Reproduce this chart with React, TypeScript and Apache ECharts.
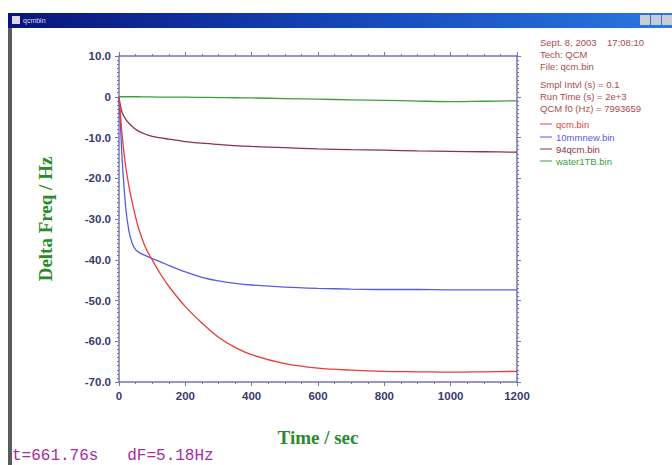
import React, { useEffect, useRef } from "react";
import * as echarts from "echarts";

const times = [0, 5, 10, 20, 30, 40, 50, 60, 80, 100, 125, 150, 200, 250, 300, 350, 400, 500, 600, 700, 800, 900, 1000, 1100, 1200];
const qcm = [0, -5, -10, -17, -22, -26, -29.5, -32.5, -37, -40, -43.5, -46.5, -51.5, -55.5, -59, -61.5, -63.3, -65.5, -66.6, -67.1, -67.4, -67.5, -67.6, -67.5, -67.4];
const mm10 = [0, -8, -16, -27, -33, -36, -37.5, -38.2, -39, -39.7, -40.5, -41.4, -43, -44.3, -45.2, -45.8, -46.2, -46.7, -47, -47.2, -47.3, -47.3, -47.4, -47.4, -47.4];
const q94 = [0, -2.5, -4, -5.5, -6.5, -7.3, -8, -8.5, -9.2, -9.7, -10.1, -10.4, -11, -11.4, -11.7, -12, -12.2, -12.5, -12.8, -13, -13.1, -13.3, -13.4, -13.5, -13.6];
const water = [0, 0, 0, 0, 0, 0, 0, 0, -0.05, -0.05, -0.1, -0.1, -0.1, -0.15, -0.2, -0.25, -0.3, -0.45, -0.6, -0.75, -0.9, -1.05, -1.2, -1.1, -1.0];

const seriesNames = ["qcm.bin", "10mmnew.bin", "94qcm.bin", "water1TB.bin"];
const seriesColors = ["#e83c3c", "#5a5ae6", "#8a3448", "#3ca03c"];
const infoLines = ["Sept. 8, 2003    17:08:10", "Tech: QCM", "File: qcm.bin", "Smpl Intvl (s) = 0.1", "Run Time (s) = 2e+3", "QCM f0 (Hz) = 7993659"];
const xTicks = [0, 1200, 200];
const yTicks = [-70, 10, 10];

export default function App() {
  const ref = useRef<HTMLDivElement>(null);
  useEffect(() => {
    if (!ref.current) return;
    const chart = echarts.init(ref.current, null, { renderer: "svg" });
    const all = [qcm, mm10, q94, water];
    const axisColor = "#7474b4";
    const labelStyle = { color: "#3a3a72", fontWeight: "bold" as const, fontSize: 11.5, fontFamily: "Liberation Sans, Arial, sans-serif" };
    const infoY = [42, 54, 66, 84, 96, 108];
    const legY = [124, 137, 149, 161];
    const graphics: any[] = [
      { type: "rect", shape: { x: 8, y: 13, width: 664, height: 15 }, style: { fill: new echarts.graphic.LinearGradient(0, 0, 1, 0, [{ offset: 0, color: "#0a1478" }, { offset: 0.5, color: "#1446b4" }, { offset: 1, color: "#2a78e0" }]) } },
      { type: "rect", shape: { x: 12, y: 16, width: 8, height: 8 }, style: { fill: "#d8d8e8" } },
      { type: "text", x: 23, y: 20, style: { text: "qcmbin", fill: "#dde", fontSize: 7, fontFamily: "Liberation Sans", verticalAlign: "middle" } },
      { type: "rect", shape: { x: 640, y: 15, width: 10, height: 10 }, style: { fill: "#c8ccd8" } },
      { type: "rect", shape: { x: 651, y: 15, width: 10, height: 10 }, style: { fill: "#c8ccd8" } },
      { type: "rect", shape: { x: 662, y: 15, width: 10, height: 10 }, style: { fill: "#c8ccd8" } },
      { type: "rect", shape: { x: 8, y: 28, width: 4, height: 437 }, style: { fill: "#5a5a5a" } },
      { type: "text", x: 45, y: 219, rotation: Math.PI / 2, style: { text: "Delta Freq / Hz", fill: "#2a8a2a", fontSize: 19, fontWeight: "bold", fontFamily: "Liberation Serif, Times New Roman, serif", align: "center", verticalAlign: "middle" } },
      { type: "text", x: 318, y: 437, style: { text: "Time / sec", fill: "#2a8a2a", fontSize: 19, fontWeight: "bold", fontFamily: "Liberation Serif, Times New Roman, serif", align: "center", verticalAlign: "middle" } },
      { type: "text", x: 12, y: 456, style: { text: "t=661.76s   dF=5.18Hz", fill: "#a42ca4", fontSize: 16, fontFamily: "Liberation Mono, Courier New, monospace", verticalAlign: "middle" } },
    ];
    infoLines.forEach((t, i) => {
      graphics.push({ type: "text", x: 540, y: infoY[i], style: { text: t, fill: "#a84c4c", fontSize: 9.5, fontFamily: "Liberation Sans, Arial, sans-serif", verticalAlign: "middle" } });
    });
    seriesNames.forEach((n, i) => {
      graphics.push({ type: "line", shape: { x1: 540, y1: legY[i], x2: 552, y2: legY[i] }, style: { stroke: seriesColors[i], lineWidth: 1 } });
      graphics.push({ type: "text", x: 556, y: legY[i], style: { text: n, fill: seriesColors[i], fontSize: 9.5, fontFamily: "Liberation Sans, Arial, sans-serif", verticalAlign: "middle" } });
    });
    const axisBase = {
      axisLine: { show: true, onZero: false, lineStyle: { color: axisColor, width: 1.5 } },
      axisTick: { show: true, inside: false, length: 4, lineStyle: { color: axisColor } },
      splitLine: { show: false },
    };
    chart.setOption({
      animation: false,
      backgroundColor: "#ffffff",
      grid: { left: 119, right: 155, top: 56, bottom: 83, containLabel: false },
      xAxis: [
        { type: "value", min: xTicks[0], max: xTicks[1], interval: xTicks[2], ...axisBase,
          minorTick: { show: true, splitNumber: 4, length: 2, lineStyle: { color: axisColor } },
          axisLabel: { ...labelStyle, margin: 8, formatter: (v: number) => String(v) } },
        { type: "value", position: "top", min: xTicks[0], max: xTicks[1], interval: xTicks[2], ...axisBase,
          minorTick: { show: true, splitNumber: 4, length: 2, lineStyle: { color: axisColor } },
          axisLabel: { show: false } },
      ],
      yAxis: [
        { type: "value", min: yTicks[0], max: yTicks[1], interval: yTicks[2], ...axisBase,
          minorTick: { show: true, splitNumber: 10, length: 2, lineStyle: { color: axisColor } },
          axisLabel: { ...labelStyle, margin: 8, formatter: (v: number) => (v === 0 ? "0" : v.toFixed(1)) } },
        { type: "value", position: "right", min: yTicks[0], max: yTicks[1], interval: yTicks[2], ...axisBase,
          minorTick: { show: true, splitNumber: 10, length: 2, lineStyle: { color: axisColor } },
          axisLabel: { show: false } },
      ],
      series: all.map((vals, i) => ({
        type: "line",
        name: seriesNames[i],
        data: times.map((t, j) => [t, vals[j]]),
        smooth: 0.3,
        symbol: "none",
        lineStyle: { color: seriesColors[i], width: 1.3 },
        z: 10 - i,
      })),
      graphic: graphics,
    });
    return () => chart.dispose();
  }, []);
  return <div ref={ref} style={{ position: "fixed", left: 0, top: 0, width: 672, height: 465 }} />;
}
